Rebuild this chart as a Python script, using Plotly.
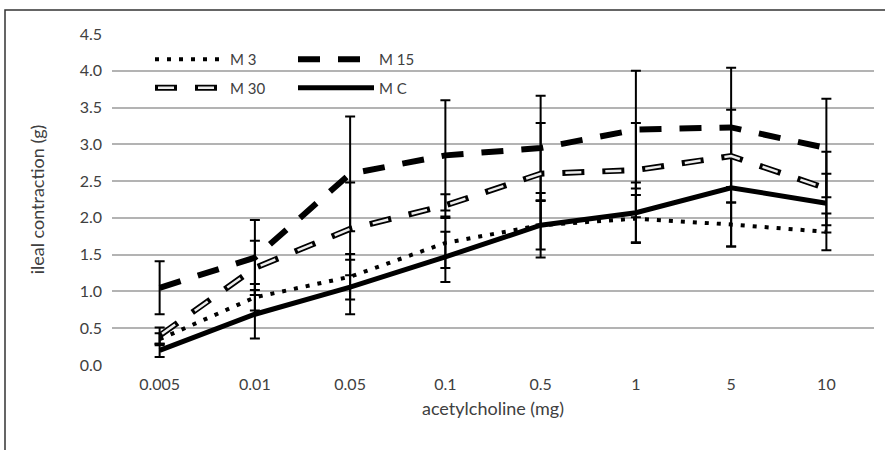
import plotly.graph_objects as go

# ---------------- data ----------------
doses = ["0.005", "0.01", "0.05", "0.1", "0.5", "1", "5", "10"]

m3 = [0.35, 0.92, 1.20, 1.66, 1.90, 1.99, 1.91, 1.81]
m3_err = [0.08, 0.18, 0.31, 0.34, 0.44, 0.32, 0.30, 0.25]

m15 = [1.05, 1.46, 2.60, 2.85, 2.95, 3.20, 3.23, 2.95]
m15_err = [0.36, 0.51, 0.78, 0.75, 0.71, 0.80, 0.81, 0.67]

m30 = [0.40, 1.32, 1.85, 2.17, 2.60, 2.65, 2.84, 2.40]
m30_err = [0.11, 0.37, 0.63, 0.15, 0.69, 0.64, 0.63, 0.50]

mc = [0.20, 0.69, 1.06, 1.47, 1.90, 2.07, 2.41, 2.20]
mc_err = [0.09, 0.33, 0.37, 0.34, 0.33, 0.41, 0.80, 0.40]

y_ticks = [0.0, 0.5, 1.0, 1.5, 2.0, 2.5, 3.0, 3.5, 4.0, 4.5]

# ---------------- layout constants ----------------
W, H = 885, 450
ML, MR, MT, MB = 112, 11, 34, 85
TXT = "#404040"
FONT = "Lato"

def err(arr):
    return dict(type="data", array=arr, visible=True, color="black",
                thickness=2, width=5)

fig = go.Figure()

fig.add_trace(go.Scatter(
    x=doses, y=m3, name="M 3", mode="lines",
    line=dict(color="black", width=4, dash="4px,8px"),
    error_y=err(m3_err), legend="legend", legendgroup="g3"))

fig.add_trace(go.Scatter(
    x=doses, y=m15, name="M 15", mode="lines",
    line=dict(color="black", width=6, dash="22px,18px"),
    error_y=err(m15_err), legend="legend2", legendgroup="g15"))

fig.add_trace(go.Scatter(
    x=doses, y=m30, name="M 30", mode="lines",
    line=dict(color="black", width=6, dash="22px,18px"),
    error_y=err(m30_err), legend="legend", legendgroup="g30"))

fig.add_trace(go.Scatter(
    x=doses, y=mc, name="M C", mode="lines",
    line=dict(color="black", width=5),
    error_y=err(mc_err), legend="legend2", legendgroup="gc"))

# inner light stroke of the M 30 outlined dashes
fig.add_trace(go.Scatter(
    x=[None], y=[None], name="M 3", mode="lines",
    line=dict(color="rgba(0,0,0,0)", width=1),
    legend="legend3", legendgroup="gdummy", hoverinfo="skip"))
fig.add_trace(go.Scatter(
    x=doses, y=m30, name="M 30", mode="lines",
    line=dict(color="#ececec", width=2.5, dash="0px,3px,16px,21px"),
    legend="legend3", legendgroup="g30i", hoverinfo="skip"))

pw = W - ML - MR
ph = H - MT - MB

def px2x(px):
    return (px - ML) / pw

def py2y(py):
    return (H - MB - py) / ph

def leg(x, iw, color=TXT):
    return dict(
        x=px2x(x), y=py2y(43), xanchor="left", yanchor="top",
        orientation="v", bgcolor="rgba(0,0,0,0)", borderwidth=0,
        font=dict(family=FONT, size=15, color=color),
        itemwidth=iw, traceorder="grouped", tracegroupgap=6,
    )

fig.update_layout(
    width=W, height=H,
    margin=dict(l=ML, r=MR, t=MT, b=MB, pad=0),
    paper_bgcolor="white", plot_bgcolor="white",
    font=dict(family=FONT, size=15, color=TXT),
    showlegend=True,
    legend=leg(150, 70),
    legend2=leg(293, 76),
    legend3=leg(150, 70, "rgba(0,0,0,0)"),
    xaxis=dict(
        type="category", categoryorder="array", categoryarray=doses,
        range=[-0.5, len(doses) - 0.5],
        showgrid=False, showline=False, zeroline=False, ticks="",
        ticklabelstandoff=8,
        tickfont=dict(family=FONT, size=16, color=TXT),
        title=dict(text="acetylcholine (mg)",
                   font=dict(family=FONT, size=18, color=TXT), standoff=10),
    ),
    yaxis=dict(
        range=[0, 4.5], tickvals=y_ticks,
        ticktext=[f"{v:.1f}" for v in y_ticks],
        showgrid=True, gridcolor="#b3b3b3", gridwidth=1.5,
        zeroline=False, showline=False, ticks="",
        ticklabelstandoff=9,
        tickfont=dict(family=FONT, size=16, color=TXT),
        title=dict(text="ileal contraction (g)",
                   font=dict(family=FONT, size=18, color=TXT), standoff=30),
    ),
    shapes=[dict(
        type="rect", xref="paper", yref="paper",
        x0=px2x(5), x1=px2x(W + 20), y0=py2y(H + 20), y1=py2y(10),
        line=dict(color="#333333", width=1.5), fillcolor="rgba(0,0,0,0)",
        layer="below")],
)

fig.write_html("out.html",
               config={"displayModeBar": False},
               post_script="document.body.style.margin='0';"
                           "document.body.style.overflow='hidden';")
